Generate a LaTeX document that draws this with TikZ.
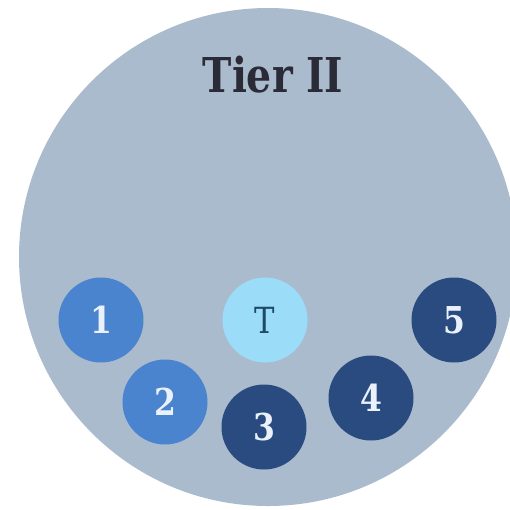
\documentclass[tikz,border=0pt]{standalone}
\usepackage{fontspec}
\newfontfamily\slab[FakeStretch=0.82]{DejaVu Serif}
\newfontfamily\slabnum[FakeStretch=0.85]{DejaVu Serif}
\definecolor{disc}{HTML}{AABBCD}
\definecolor{midblue}{HTML}{4A84CE}
\definecolor{lightblue}{HTML}{9BDDF9}
\definecolor{navy}{HTML}{294B80}
\definecolor{titleink}{HTML}{2B2B38}
\definecolor{tink}{HTML}{1E4A66}
\definecolor{numink}{HTML}{EAF1FA}
\tikzset{
  member/.style={circle, minimum size=85pt, inner sep=0pt, font=\slabnum\bfseries\fontsize{37}{37}\selectfont, text=numink},
  mid/.style={member, fill=midblue},
  dark/.style={member, fill=navy},
  tnode/.style={member, fill=lightblue, text=tink, font=\slabnum\fontsize{36}{36}\selectfont}
}
\begin{document}
\begin{tikzpicture}[x=1pt, y=-1pt]
  \useasboundingbox (0,0) rectangle (510,509);
  \clip (0,0) rectangle (510,509);
  % the tier disc
  \fill[disc] (268,257) circle (249);
  \node[font=\slab\bfseries\fontsize{48}{48}\selectfont, text=titleink, anchor=base] (title) at (273,92) {Tier II};
  % team members
  \node[mid]   (n1) at (101,320) {1};
  \node[tnode] (t)  at (265,320) {T};
  \node[dark]  (n5) at (454,320) {5};
  \node[mid]   (n2) at (165,402) {2};
  \node[dark]  (n3) at (264,427) {3};
  \node[dark]  (n4) at (371,398) {4};
\end{tikzpicture}
\end{document}
